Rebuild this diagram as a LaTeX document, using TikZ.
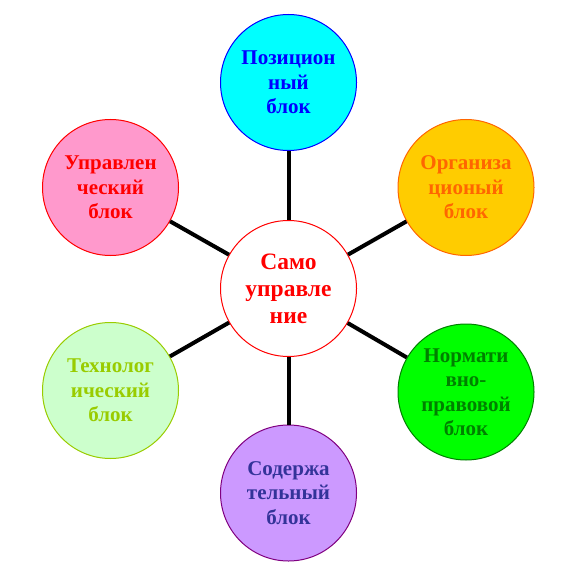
\documentclass[tikz,border=0pt]{standalone}
\usepackage{fontspec}
\setmainfont{Liberation Serif}

\definecolor{biruza}{RGB}{0,255,255}
\definecolor{sinij}{RGB}{0,0,255}
\definecolor{zoloto}{RGB}{255,204,0}
\definecolor{oranzh}{RGB}{255,102,0}
\definecolor{yarkozel}{RGB}{0,255,0}
\definecolor{zelen}{RGB}{0,128,0}
\definecolor{sirenev}{RGB}{204,153,255}
\definecolor{purpur}{RGB}{128,0,128}
\definecolor{indigo}{RGB}{51,51,153}
\definecolor{salat}{RGB}{204,255,204}
\definecolor{olivka}{RGB}{153,204,0}
\definecolor{rozov}{RGB}{255,153,204}

\tikzset{
  blok/.style={circle, draw, line width=1pt, minimum size=136pt, inner sep=0pt,
    align=center, font=\fontsize{21}{24.5}\selectfont\bfseries},
  svyaz/.style={line width=4pt}
}

\begin{document}
\begin{tikzpicture}[x=1pt,y=-1pt]
\useasboundingbox (0,0) rectangle (577,577);

% Самоуправление
\node[blok, draw=red, fill=white, text=red, font=\fontsize{23.5}{27}\selectfont\bfseries]
  (samo) at (288.5,288.5) {Само\\управле\\ние};

% Позиционный
\node[blok, draw=sinij, fill=biruza, text=sinij] (poz) at (288.5,82.5) {Позицион\\ный\\блок};
\draw[svyaz] (samo) -- (poz);

% Организационный
\node[blok, draw=oranzh, fill=zoloto, text=oranzh] (org) at (466,187.5) {Организа\\ционый\\блок};
\draw[svyaz] (samo) -- (org);

% Нормативно-правовой
\node[blok, draw=zelen, fill=yarkozel, text=zelen] (norm) at (466,392) {Нормати\\вно-\\правовой\\блок};
\draw[svyaz] (samo) -- (norm);

% Содержательный
\node[blok, draw=purpur, fill=sirenev, text=indigo] (sod) at (288.5,493) {Содержа\\тельный\\блок};
\draw[svyaz] (samo) -- (sod);

% Технологический
\node[blok, draw=olivka, fill=salat, text=olivka] (tech) at (110.5,390.5) {Технолог\\ический\\блок};
\draw[svyaz] (samo) -- (tech);

% Управленческий
\node[blok, draw=red, fill=rozov, text=red] (upr) at (110.5,187.5) {Управлен\\ческий\\блок};
\draw[svyaz] (samo) -- (upr);

\end{tikzpicture}
\end{document}
